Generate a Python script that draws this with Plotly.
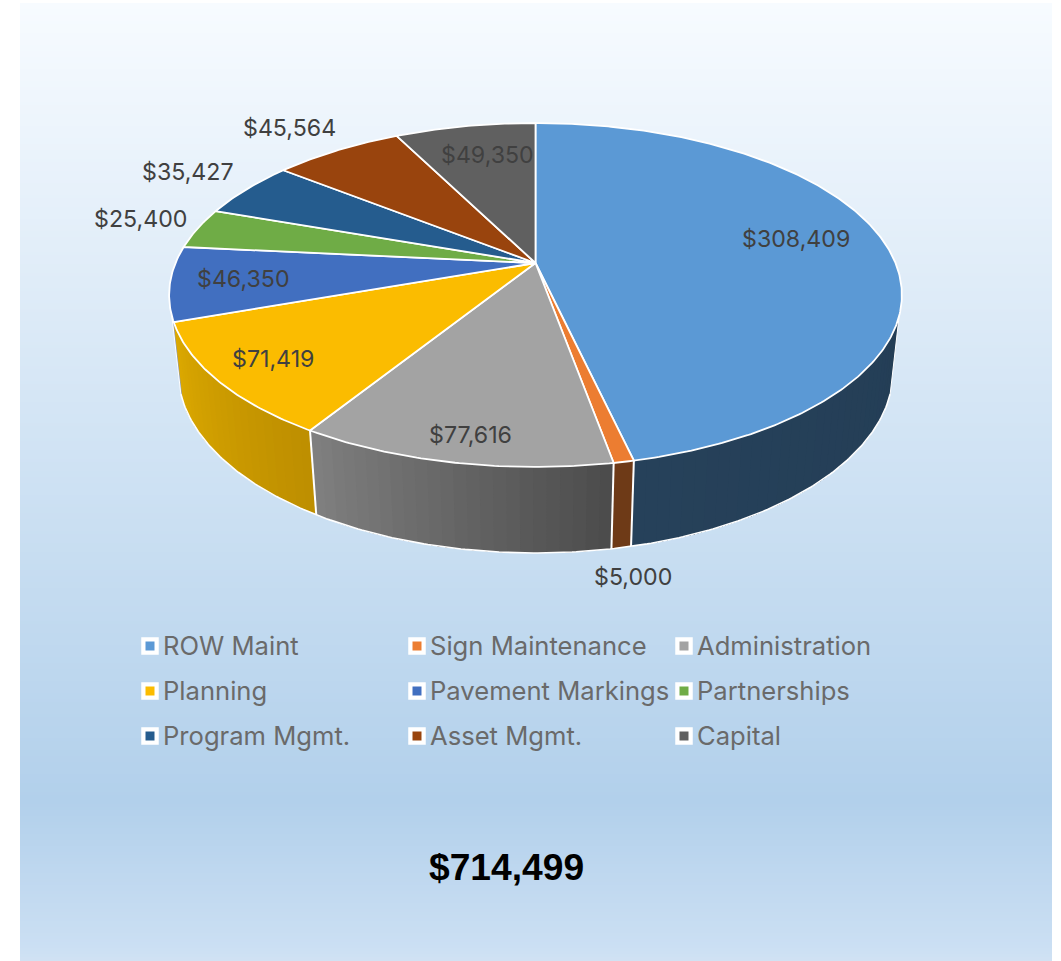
import math
import plotly.graph_objects as go

# ---- data ----
categories = ["ROW Maint", "Sign Maintenance", "Administration", "Planning", "Pavement Markings",
              "Partnerships", "Program Mgmt.", "Asset Mgmt.", "Capital"]
values = [308409, 5000, 77616, 71419, 46350, 25400, 35427, 45564, 49350]
value_labels = ["$308,409", "$5,000", "$77,616", "$71,419", "$46,350", "$25,400", "$35,427", "$45,564", "$49,350"]
total_label = "$714,499"

# ---- styles ----
top_colors = ["#5B99D5", "#EC7D31", "#A3A3A3", "#FBBC00", "#416FC0", "#6FAC46", "#255C8E", "#99440D", "#606060"]
side_left = ["#26415A", "#6E3A17", "#808080", "#DCA900", "#8FA0BF", "#416429", "#163552", "#592708", "#3A3A3A"]
side_right = ["#243E56", "#6E3A17", "#4B4B4B", "#BD8E00", "#8FA0BF", "#416429", "#163552", "#592708", "#3A3A3A"]
label_x = [796, 633, 470, 273, 243, 140, 188, 289, 487]
label_y = [239, 577, 435, 359, 279, 219, 172, 128, 155]
legend_col_x = [150, 417, 684]
legend_row_y = [646, 691, 736]
LABEL_FONT = "Inter"
W, H = 1061, 961
CX, CY, A, B, P, C, Q = 535.5, 263, 360, 166, 0.186, 77.0, 0.024

bg_stops = [(3, (247, 251, 255)), (800, (178, 208, 235)), (945, (203, 223, 243)), (961, (209, 226, 243))]


def project(theta, z=0.0):
    u, v = math.sin(theta), math.cos(theta)
    w = 1 + P * v + Q * z
    return CX + A * u / w, CY + (-B * v + C * z) / w


def hexrgb(h):
    return tuple(int(h[i:i + 2], 16) for i in (1, 3, 5))


def mix(c1, c2, t):
    return tuple(round(a + (b - a) * t) for a, b in zip(c1, c2))


def arc(t0, t1, z=0.0, n=None):
    n = n or max(2, int(abs(t1 - t0) / 0.01))
    pts = [project(t0 + (t1 - t0) * i / n, z) for i in range(n + 1)]
    return [p[0] for p in pts], [p[1] for p in pts]


def poly(xs, ys, fill, line, width):
    return go.Scatter(x=xs, y=ys, mode="lines", fill="toself", fillcolor=fill,
                      line=dict(color=line, width=width), hoverinfo="skip", showlegend=False)


fig = go.Figure()

# background panel
shapes = []
for y in range(3, 961, 3):
    for (y0, c0), (y1, c1) in zip(bg_stops, bg_stops[1:]):
        if y0 <= y <= y1:
            col = mix(c0, c1, (y - y0) / (y1 - y0))
            break
    shapes.append(dict(type="rect", xref="x", yref="y", x0=20, x1=1052, y0=y, y1=min(y + 3.5, 961),
                       fillcolor="rgb(%d,%d,%d)" % col, line_width=0, layer="below"))

# slice angles, clockwise from 12 o'clock
total = sum(values)
edges = [0.0]
for val in values:
    edges.append(edges[-1] + val / total * 2 * math.pi)

# visible side range between the silhouette tangents
VIS0, VIS1 = math.radians(107.5), math.radians(252.5)

for i in range(len(values)):
    t0, t1 = max(edges[i], VIS0), min(edges[i + 1], VIS1)
    if t1 <= t0:
        continue
    n = max(1, int((t1 - t0) / 0.03))
    c0, c1 = hexrgb(side_right[i]), hexrgb(side_left[i])
    # each strip runs on to the end of the slice and the next one paints over it, so no seams show
    for k in range(n):
        a = t0 + (t1 - t0) * k / n
        xa, ya = arc(a, t1, 0)
        xb, yb = arc(t1, a, 1)
        col = "rgb(%d,%d,%d)" % mix(c0, c1, (k + 0.5) / n)
        fig.add_trace(poly(xa + xb + xa[:1], ya + yb + ya[:1], col, col, 0))

# side outlines
bx, by = arc(VIS0, VIS1, 1)
fig.add_trace(go.Scatter(x=bx, y=by, mode="lines", line=dict(color="white", width=1.6),
                         hoverinfo="skip", showlegend=False))
for t in [VIS0, VIS1] + [e for e in edges[1:-1] if VIS0 < e < VIS1 - 0.05]:
    p, q = project(t), project(t, 1)
    wid = 1.0 if t in (VIS0, VIS1) else 2.0
    fig.add_trace(go.Scatter(x=[p[0], q[0]], y=[p[1], q[1]], mode="lines",
                             line=dict(color="white", width=wid), hoverinfo="skip", showlegend=False))

# top faces
for i in range(len(values)):
    xs, ys = arc(edges[i], edges[i + 1])
    fig.add_trace(poly([CX] + xs + [CX], [CY] + ys + [CY], top_colors[i], "white", 1.8))

# value labels
for x, y, s in zip(label_x, label_y, value_labels):
    fig.add_annotation(x=x, y=y, text=s, showarrow=False, xanchor="center", yanchor="middle",
                       font=dict(family=LABEL_FONT, size=23.2, color="#404040"))

# legend
for i, name in enumerate(categories):
    lx, ly = legend_col_x[i % 3], legend_row_y[i // 3]
    fig.add_trace(go.Scatter(x=[lx], y=[ly], mode="markers", hoverinfo="skip", showlegend=False,
                             marker=dict(symbol="square", size=15, color="white",
                                         line=dict(color="white", width=2.5))))
    fig.add_trace(go.Scatter(x=[lx], y=[ly], mode="markers", hoverinfo="skip", showlegend=False,
                             marker=dict(symbol="square", size=9, color=top_colors[i])))
    fig.add_annotation(x=lx + 11, y=ly - 1, text=name, showarrow=False, xanchor="left", yanchor="middle",
                       font=dict(family=LABEL_FONT, size=25.6, color="#6A6A6A"))

fig.add_annotation(x=506, y=867, text="<b>%s</b>" % total_label, showarrow=False,
                   font=dict(family="Liberation Sans", size=37.2, color="black"))

fig.update_layout(width=W, height=H, margin=dict(l=0, r=0, t=0, b=0), paper_bgcolor="white",
                  plot_bgcolor="rgba(0,0,0,0)", showlegend=False, shapes=shapes,
                  xaxis=dict(range=[0, W], visible=False, fixedrange=True),
                  yaxis=dict(range=[H, 0], visible=False, fixedrange=True))

fig.write_html("out.html", config={"displayModeBar": False},
               post_script="document.body.style.margin='0';document.body.style.overflow='hidden';")
